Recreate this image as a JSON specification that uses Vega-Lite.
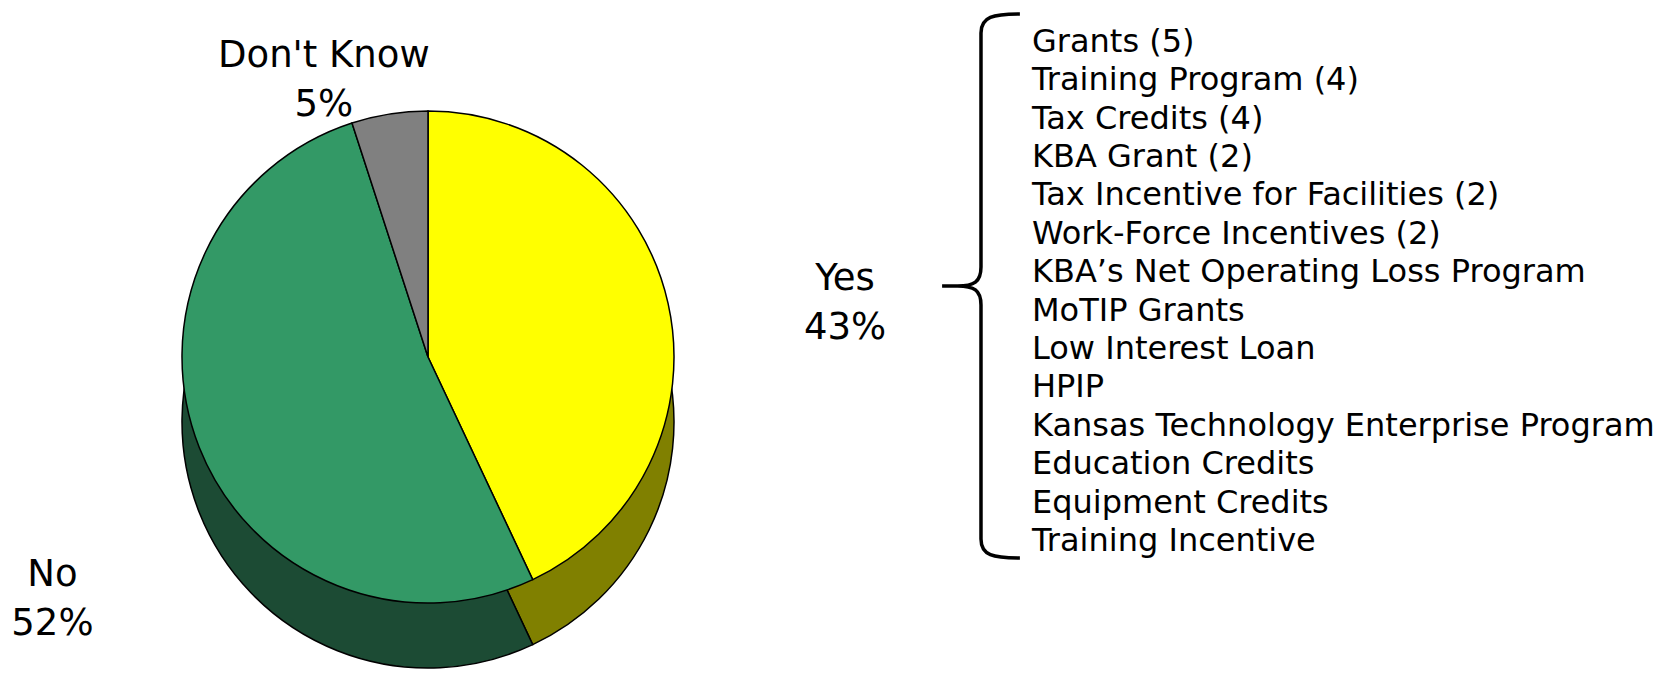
{
  "$schema": "https://vega.github.io/schema/vega-lite/v6.json",
  "padding": 0,
  "bounds": "flush",
  "spacing": 0,
  "config": {"view": {"stroke": null}, "concat": {"spacing": 0}},
  "datasets": {
    "pie": [
      {"cat": "Yes", "pct": 43, "ord": 1, "label": "Yes\n43%"},
      {"cat": "No", "pct": 52, "ord": 2, "label": "No\n52%"},
      {"cat": "Don't Know", "pct": 5, "ord": 3, "label": "Don't Know\n5%"}
    ],
    "items": [
      {"item": "Grants (5)"},
      {"item": "Training Program (4)"},
      {"item": "Tax Credits (4)"},
      {"item": "KBA Grant (2)"},
      {"item": "Tax Incentive for Facilities (2)"},
      {"item": "Work-Force Incentives (2)"},
      {"item": "KBA’s Net Operating Loss Program"},
      {"item": "MoTIP Grants"},
      {"item": "Low Interest Loan"},
      {"item": "HPIP"},
      {"item": "Kansas Technology Enterprise Program"},
      {"item": "Education Credits"},
      {"item": "Equipment Credits"},
      {"item": "Training Incentive"}
    ]
  },
  "hconcat": [
    {
      "width": 856,
      "height": 674,
      "data": {"name": "pie"},
      "resolve": {"scale": {"color": "independent"}},
      "layer": [
        {
          "mark": {"type": "arc", "radius": 246, "yOffset": 85, "stroke": "black", "strokeWidth": 1.5},
          "encoding": {
            "theta": {"field": "pct", "type": "quantitative", "stack": true},
            "order": {"field": "ord", "type": "quantitative"},
            "color": {"field": "cat", "type": "nominal", "legend": null,
              "scale": {"domain": ["Yes", "No", "Don't Know"], "range": ["#808000", "#1C4B34", "#4D4D4D"]}}
          }
        },
        {
          "mark": {"type": "arc", "radius": 246, "yOffset": 20, "stroke": "black", "strokeWidth": 1.5},
          "encoding": {
            "theta": {"field": "pct", "type": "quantitative", "stack": true},
            "order": {"field": "ord", "type": "quantitative"},
            "color": {"field": "cat", "type": "nominal", "legend": null,
              "scale": {"domain": ["Yes", "No", "Don't Know"], "range": ["#FFFF00", "#339966", "#808080"]}}
          }
        },
        {
          "transform": [
            {"stack": "pct", "groupby": [], "sort": [{"field": "ord", "order": "ascending"}], "as": ["t0", "t1"]},
            {"filter": "datum.ord === 1"}
          ],
          "mark": {"type": "text", "radius": 58, "dx": 417, "dy": 0, "font": "DejaVu Sans", "fontSize": 37, "lineHeight": 49, "lineBreak": "\n", "baseline": "middle", "align": "center", "color": "black"},
          "encoding": {
            "theta": {"field": "t0", "type": "quantitative"},
            "text": {"field": "label", "type": "nominal"}
          }
        },
        {
          "transform": [
            {"stack": "pct", "groupby": [], "sort": [{"field": "ord", "order": "ascending"}], "as": ["t0", "t1"]},
            {"filter": "datum.ord === 2"}
          ],
          "mark": {"type": "text", "radius": 250, "dx": -482, "dy": 12, "font": "DejaVu Sans", "fontSize": 37, "lineHeight": 49, "lineBreak": "\n", "baseline": "middle", "align": "center", "color": "black"},
          "encoding": {
            "theta": {"field": "t0", "type": "quantitative"},
            "text": {"field": "label", "type": "nominal"}
          }
        },
        {
          "transform": [
            {"stack": "pct", "groupby": [], "sort": [{"field": "ord", "order": "ascending"}], "as": ["t0", "t1"]},
            {"filter": "datum.ord === 3"}
          ],
          "mark": {"type": "text", "radius": 295, "dx": -13, "dy": 0, "font": "DejaVu Sans", "fontSize": 37, "lineHeight": 49, "lineBreak": "\n", "baseline": "middle", "align": "center", "color": "black"},
          "encoding": {
            "theta": {"field": "t0", "type": "quantitative"},
            "text": {"field": "label", "type": "nominal"}
          }
        }
      ]
    },
    {
      "width": 176,
      "height": 572,
      "data": {"values": [{"brace": "list"}]},
      "mark": {
        "type": "point",
        "filled": false,
        "stroke": "black",
        "strokeWidth": 3.5,
        "opacity": 1,
        "size": 295936,
        "shape": "M 0.279 -1 C 0.18 -1 0.136 -0.99 0.136 -0.93 L 0.136 -0.07 C 0.136 -0.015 0.11 0 0.05 0 L -0.007 0 M 0.05 0 C 0.11 0 0.136 0.015 0.136 0.07 L 0.136 0.93 C 0.136 0.99 0.18 1 0.279 1"
      },
      "encoding": {}
    },
    {
      "width": 628,
      "height": 572,
      "data": {"name": "items"},
      "mark": {"type": "text", "align": "left", "baseline": "middle", "font": "DejaVu Sans", "fontSize": 32, "color": "black", "x": 0},
      "encoding": {
        "y": {"field": "item", "type": "ordinal", "sort": null, "axis": null,
          "scale": {"type": "point", "padding": 0.95, "align": 0.575}},
        "text": {"field": "item", "type": "nominal"}
      }
    }
  ]
}
